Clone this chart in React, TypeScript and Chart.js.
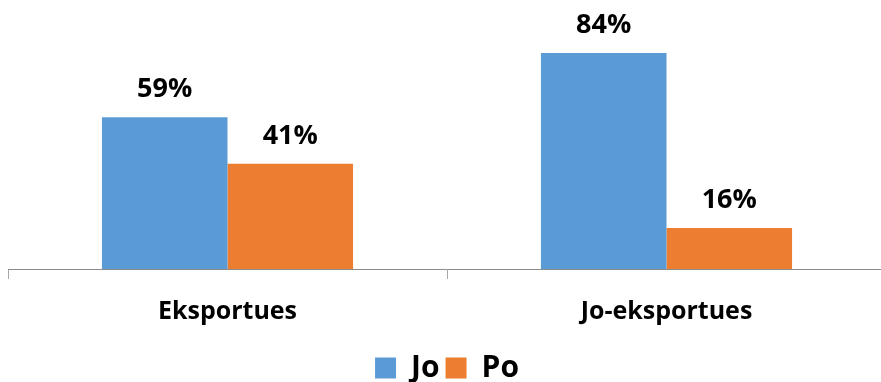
import React, { useEffect, useRef } from "react";
import { Chart, registerables } from "chart.js";

Chart.register(...registerables);

const categories = ["Eksportues", "Jo-eksportues"];
const seriesNames = ["Jo", "Po"];
const joValues = [59, 84];
const poValues = [41, 16];
const colors = ["#5B9BD5", "#ED7D31"];

const FONT = "'Open Sans', sans-serif";

const valueLabels = {
  id: "valueLabels",
  afterDatasetsDraw(chart: any) {
    const ctx = chart.ctx;
    ctx.save();
    ctx.font = `bold 27px ${FONT}`;
    ctx.fillStyle = "#000";
    ctx.textAlign = "center";
    ctx.textBaseline = "alphabetic";
    chart.data.datasets.forEach((ds: any, di: number) => {
      const meta = chart.getDatasetMeta(di);
      meta.data.forEach((bar: any, i: number) => {
        ctx.fillText(`${ds.data[i]}%`, bar.x, bar.y - 20);
      });
    });
    ctx.restore();
  },
};

export default function App() {
  const ref = useRef<HTMLCanvasElement>(null);
  useEffect(() => {
    const chart = new Chart(ref.current!, {
      type: "bar",
      data: {
        labels: categories,
        datasets: [
          { label: seriesNames[0], data: joValues, backgroundColor: colors[0] },
          { label: seriesNames[1], data: poValues, backgroundColor: colors[1] },
        ],
      },
      options: {
        animation: false,
        responsive: false,
        maintainAspectRatio: false,
        layout: { padding: { left: 8, right: 2, top: 12, bottom: -11 } },
        datasets: { bar: { categoryPercentage: 0.572, barPercentage: 1 } },
        scales: {
          x: {
            offset: true,
            grid: {
              display: true,
              offset: true,
              drawOnChartArea: false,
              drawTicks: true,
              tickLength: 10,
              color: "#A6A6A6",
              lineWidth: 1,
            },
            border: { display: true, color: "#8C8C8C", width: 1 },
            ticks: {
              color: "#000",
              font: { family: FONT, size: 25, weight: "bold" },
              padding: 18,
            },
            afterFit(scale: any) {
              scale.height = 78;
            },
          },
          y: { display: false, min: 0, max: 100 },
        },
        plugins: {
          legend: {
            position: "bottom",
            labels: {
              color: "#000",
              font: { family: FONT, size: 30, weight: "bold" },
              boxWidth: 21,
              boxHeight: 21,
              padding: 6,
            },
          },
          tooltip: { enabled: false },
        },
      },
      plugins: [valueLabels],
    });
    return () => chart.destroy();
  }, []);
  return (
    <div style={{ position: "fixed", left: 0, top: 0, width: 881, height: 382, overflow: "hidden", background: "#fff" }}>
      <canvas ref={ref} width={888} height={382} />
    </div>
  );
}
